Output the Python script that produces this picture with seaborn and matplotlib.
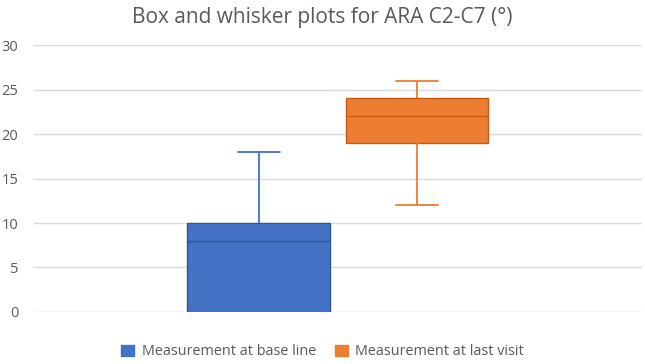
import matplotlib
matplotlib.use("Agg")
import matplotlib.pyplot as plt
import matplotlib.patches as mpatches
import pandas as pd
import seaborn as sns

# ========== Data ==========
series_names = ["Measurement at base line", "Measurement at last visit"]
# raw values chosen so quartiles / whiskers match the picture
baseline = [0, 0, 0, 8, 10, 10, 18]
last_visit = [12, 19, 19, 22, 24, 24, 26]
y_ticks = [0, 5, 10, 15, 20, 25, 30]

fill_colors = ["#4472C4", "#ED7D31"]
edge_colors = ["#2F5597", "#C55A11"]

df = pd.DataFrame({
    "group": [""] * (len(baseline) + len(last_visit)),
    "value": baseline + last_visit,
    "series": [series_names[0]] * len(baseline) + [series_names[1]] * len(last_visit),
})

# ========== Plot ==========
sns.set_style("white")
plt.rcParams["font.family"] = ["Open Sans", "DejaVu Sans"]

fig = plt.figure(figsize=(6.45, 3.64), dpi=100)
ax = fig.add_axes([0.052, 0.143, 0.943, 0.733])

sns.boxplot(data=df, x="group", y="value", hue="series", hue_order=series_names,
            palette=fill_colors, width=0.52, gap=0.1, whis=(0, 100),
            linewidth=1.3, saturation=1, legend=False, capwidths=0.069, ax=ax)

for cont, fc, ec in zip(ax.containers, fill_colors, edge_colors):
    for b in cont.boxes:
        b.set_facecolor(fc)
        b.set_edgecolor(ec)
        b.set_linewidth(1.0)
    for ln in cont.whiskers + cont.caps:
        ln.set_color(fc)
        ln.set_linewidth(1.3)
    for ln in cont.medians:
        ln.set_color(ec)
        ln.set_linewidth(1.0)

ax.set_xlim(-0.5, 0.5)
ax.set_ylim(0, 30)
ax.set_yticks(y_ticks)
ax.set_xticks([])
ax.set_xlabel("")
ax.set_ylabel("")
ax.yaxis.grid(True, color="#D9D9D9", linewidth=1.0)
ax.set_axisbelow(True)
for s in ax.spines.values():
    s.set_visible(False)
ax.tick_params(axis="y", length=0, labelsize=10.5, labelcolor="#595959", pad=11)

fig.text(0.5, 0.952, "Box and whisker plots for ARA C2-C7 (°)", ha="center", va="center",
         fontsize=15, color="#595959")

handles = [mpatches.Patch(facecolor=fc, edgecolor=fc) for fc in fill_colors]
fig.legend(handles, series_names, loc="center", bbox_to_anchor=(0.5, 0.033), ncol=2,
           frameon=False, fontsize=10.4, labelcolor="#595959", handlelength=0.9,
           handleheight=0.9, handletextpad=0.5, columnspacing=1.3)

fig.savefig("out.png", dpi=100)
